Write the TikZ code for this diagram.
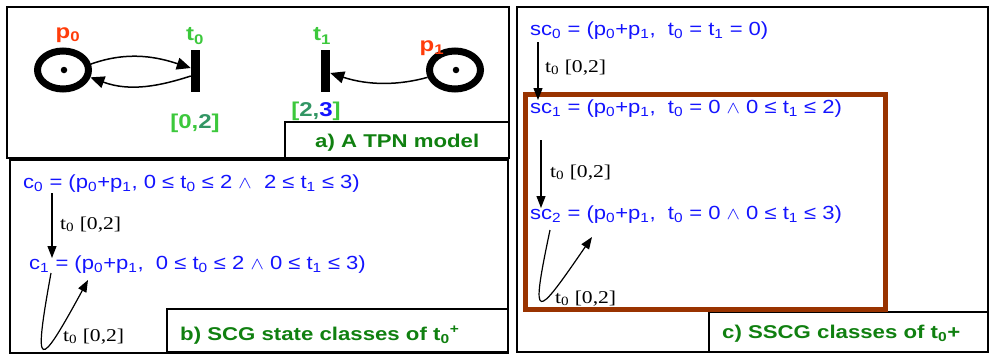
\documentclass[tikz,border=0pt]{standalone}
\usepackage{graphicx}
\usepackage{fontspec}
\setmainfont{Liberation Serif}
\setsansfont{Liberation Sans}
\usetikzlibrary{arrows.meta,shapes.geometric}
\definecolor{stblue}{RGB}{20,20,255}
\definecolor{pred}{RGB}{255,60,10}
\definecolor{lgreen}{RGB}{60,200,60}
\definecolor{tgreen}{RGB}{50,150,100}
\definecolor{capgreen}{RGB}{16,128,16}
\definecolor{brownbox}{RGB}{153,51,0}
\newcommand\hs[1]{\scalebox{1.2}[1]{#1}}
\newcommand\hb[1]{\scalebox{1.16}[1]{#1}}
\newcommand\lo[1]{\textsubscript{#1}}
\tikzset{
  frame/.style={draw=black, line width=1.6pt},
  bluetxt/.style={font=\sffamily\fontsize{19}{22}\selectfont, text=stblue, anchor=base west, inner sep=0pt},
  serlab/.style={font=\rmfamily\fontsize{18}{20}\selectfont, text=black, anchor=base west, inner sep=0pt},
  captxt/.style={font=\sffamily\bfseries\fontsize{18.5}{20}\selectfont, text=capgreen, anchor=base west, inner sep=0pt},
  pnlab/.style={font=\sffamily\bfseries\fontsize{20}{22}\selectfont, inner sep=0pt},
  place/.style={ellipse, draw=black, line width=7pt, minimum width=51pt, minimum height=38pt, inner sep=0pt},
  trans/.style={rectangle, fill=black, minimum width=9pt, minimum height=42pt, inner sep=0pt},
  token/.style={circle, fill=black, minimum size=6.5pt, inner sep=0pt},
  arr/.style={-{Triangle[length=12pt,width=9pt]}, line width=1.2pt},
  arc/.style={-{Triangle[length=14pt,width=12pt]}, line width=1.5pt}
}
\begin{document}
\begin{tikzpicture}[x=1pt,y=-1pt]
\useasboundingbox (0,0) rectangle (990,356);
% frames
\draw[frame] (7,7) rectangle (509,158);
\draw[frame] (10,160) rectangle (508,353);
\draw[frame] (517,7) rectangle (988,352);
\draw[frame] (285,122) rectangle (509,158);
\draw[frame] (167,309) rectangle (508,352);
\draw[frame] (709,312) rectangle (988,352);
% captions
\node[captxt] (capa) at (315,147) {\hs{a) A TPN model}};
\node[captxt] (capb) at (180,340) {\hs{b) SCG state classes of t\lo{0}\textsuperscript{+}}};
\node[captxt] (capc) at (722,338) {\hs{c) SSCG classes of t\lo{0}+}};
% Petri net
\node[place] (p0) at (63,70) {};
\node[token] (k0) at (64,70) {};
\node[place] (p1) at (455,70) {};
\node[token] (k1) at (456,70) {};
\node[trans] (t0) at (195.5,71) {};
\node[trans] (t1) at (325.5,71) {};
\node[pnlab, text=pred] (lp0) at (68,35) {\hs{p\lo{0}}};
\node[pnlab, text=pred] (lp1) at (432,48) {\hs{p\lo{1}}};
\node[pnlab, text=lgreen] (lt0) at (195,36) {\hs{t\lo{0}}};
\node[pnlab, text=lgreen] (lt1) at (322,36) {\hs{t\lo{1}}};
\node[pnlab] (i0) at (195,123) {\hs{\textcolor{lgreen}{[0,}\textcolor{tgreen}{2}\textcolor{lgreen}{]}}};
\node[pnlab] (i1) at (316,111) {\hs{\textcolor{lgreen}{[}\textcolor{tgreen}{2,}\textcolor{stblue}{3}\textcolor{lgreen}{]}}};
\draw[arc] (p0.12) .. controls (130,50) and (160,58) .. (t0.west |- 0,68);
\draw[arc] (t0.west |- 0,76) .. controls (160,86) and (130,92) .. (p0.-15);
\draw[arc] (p1.195) .. controls (400,85) and (370,86) .. (t1.east |- 0,73);
% SCG
\node[bluetxt] (c0) at (23,188) {\hb{c\lo{0} = (p\lo{0}+p\lo{1}, 0 ≤ t\lo{0} ≤ 2 $\wedge$\ \ 2 ≤ t\lo{1} ≤ 3)}};
\node[bluetxt] (c1) at (29,269) {\hb{c\lo{1} = (p\lo{0}+p\lo{1},\ \ 0 ≤ t\lo{0} ≤ 2 $\wedge$ 0 ≤ t\lo{1} ≤ 3)}};
\coordinate (c0a) at (52,193);
\coordinate (c1a) at (52,258);
\coordinate (c1l) at (51,273);
\coordinate (c1r) at (88,280);
\draw[arr] (c0a) -- (c1a);
\draw[arr] (c1l) .. controls (33,372) and (38,372) .. (c1r);
\node[serlab] (l1) at (60,229) {\hs{t\lo{0} [0,2]}};
\node[serlab] (l2) at (63,341) {\hs{t\lo{0} [0,2]}};
% SSCG
\draw[brownbox, line width=5pt] (525,94) rectangle (885,309);
\node[bluetxt] (sc0) at (530,35) {\hb{sc\lo{0} = (p\lo{0}+p\lo{1},\ \ t\lo{0} = t\lo{1} = 0)}};
\node[bluetxt] (sc1) at (530,113) {\hb{sc\lo{1} = (p\lo{0}+p\lo{1},\ \ t\lo{0} = 0 $\wedge$ 0 ≤ t\lo{1} ≤ 2)}};
\node[bluetxt] (sc2) at (530,219) {\hb{sc\lo{2} = (p\lo{0}+p\lo{1},\ \ t\lo{0} = 0 $\wedge$ 0 ≤ t\lo{1} ≤ 3)}};
\coordinate (s0a) at (538,42);
\coordinate (s1a) at (538,100);
\coordinate (s1b) at (541,140);
\coordinate (s2a) at (541,208);
\coordinate (s2l) at (550,230);
\coordinate (s2r) at (592,237);
\draw[arr] (s0a) -- (s1a);
\draw[arr] (s1b) -- (s2a);
\draw[arr] (s2l) .. controls (530,325) and (535,320) .. (s2r);
\node[serlab] (l3) at (545,72) {\hs{t\lo{0} [0,2]}};
\node[serlab] (l4) at (550,177) {\hs{t\lo{0} [0,2]}};
\node[serlab] (l5) at (555,303) {\hs{t\lo{0} [0,2]}};
\end{tikzpicture}
\end{document}
